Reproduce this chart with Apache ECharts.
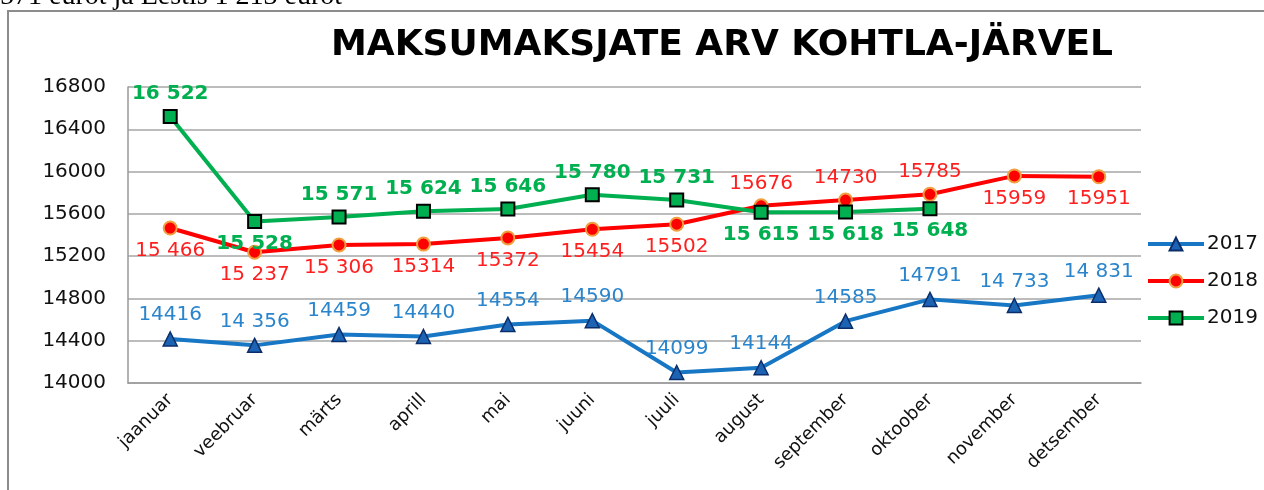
<!DOCTYPE html>
<html>
<head>
<meta charset="utf-8">
<script src="https://cdn.jsdelivr.net/npm/echarts@6/dist/echarts.min.js"></script>
<style>
  html, body { margin: 0; padding: 0; background: #fff; }
  #chart { width: 1264px; height: 490px; }
</style>
</head>
<body>
<div id="chart"></div>
<script>
// months
var months = ['jaanuar', 'veebruar', 'märts', 'aprill', 'mai', 'juuni', 'juuli', 'august', 'september', 'oktoober', 'november', 'detsember']
var yTicks = [14000, 14400, 14800, 15200, 15600, 16000, 16400, 16800]

var values2017 = [14416, 14356, 14459, 14440, 14554, 14590, 14099, 14144, 14585, 14791, 14733, 14831]
var values2018 = [15466, 15237, 15306, 15314, 15372, 15454, 15502, 15676, 15730, 15785, 15959, 15951]
var values2019 = [16522, 15528, 15571, 15624, 15646, 15780, 15731, 15615, 15618, 15648, null, null]

// label text as written on the original chart
var labels2017 = ['14416', '14 356', '14459', '14440', '14554', '14590', '14099', '14144', '14585', '14791', '14 733', '14 831']
var labels2018 = ['15 466', '15 237', '15 306', '15314', '15372', '15454', '15502', '15676', '14730', '15785', '15959', '15951']
var labels2019 = ['16 522', '15 528', '15 571', '15 624', '15 646', '15 780', '15 731', '15 615', '15 618', '15 648', '', '']

var seriesNames = ['2017', '2018', '2019']

function buildData (values, labels, belowIdx) {
  return values.map(function (v, i) {
    return {
      value: v,
      label: {
        position: belowIdx.indexOf(i) >= 0 ? 'bottom' : 'top',
        formatter: labels[i]
      }
    }
  })
}

var chart = echarts.init(document.getElementById('chart'), null, { renderer: 'canvas' })

var font = 'DejaVu Sans, Verdana, sans-serif'

var option = {
  animation: false,
  textStyle: { fontFamily: font },
  graphic: [
    {
      type: 'text',
      left: 0,
      top: -17,
      style: { text: '571 eurot ja Eestis 1 213 eurot', font: '28px "Liberation Serif", serif', fill: '#000' }
    },
    {
      type: 'rect',
      shape: { x: 8, y: 11, width: 1270, height: 500 },
      style: { fill: 'none', stroke: '#8c8c8c', lineWidth: 2 }
    }
  ],
  title: {
    text: 'MAKSUMAKSJATE ARV KOHTLA-JÄRVEL',
    left: 717,
    textAlign: 'center',
    top: 23,
    textStyle: { fontFamily: font, fontWeight: 'bold', fontSize: 36, color: '#000' }
  },
  legend: {
    orient: 'vertical',
    left: 1146,
    top: 234,
    itemWidth: 56,
    itemHeight: 16,
    itemGap: 17,
    padding: 0,
    data: seriesNames,
    lineStyle: { width: 4 },
    textStyle: { fontFamily: font, fontSize: 20, color: '#111', padding: [0, 0, 0, -2] }
  },
  grid: {
    left: 128,
    right: 123,
    top: 87,
    bottom: 107
  },
  xAxis: {
    type: 'category',
    data: months,
    boundaryGap: true,
    axisLine: { lineStyle: { color: '#999', width: 1.5 } },
    axisTick: { inside: true, length: 8, lineStyle: { color: '#999' } },
    axisLabel: { rotate: 45, margin: 14, fontSize: 18, color: '#111', fontFamily: font }
  },
  yAxis: {
    type: 'value',
    min: yTicks[0],
    max: yTicks[yTicks.length - 1],
    interval: 400,
    axisLine: { show: true, lineStyle: { color: '#999', width: 1.5 } },
    axisTick: { show: false },
    axisLabel: {
      fontSize: 20,
      color: '#111',
      margin: 22,
      fontFamily: font,
      formatter: function (v) { return String(v) }
    },
    splitLine: { lineStyle: { color: '#a6a6a6', width: 1.5 } }
  },
  series: [
    {
      name: '2017',
      type: 'line',
      data: buildData(values2017, labels2017, []),
      symbol: 'triangle',
      symbolSize: 14,
      lineStyle: { color: '#1777c4', width: 4 },
      itemStyle: { color: '#1d63b3', borderColor: '#0b2e6b', borderWidth: 1.5 },
      label: { show: true, distance: 6, fontSize: 20, color: '#2a85cc', fontFamily: font }
    },
    {
      name: '2018',
      type: 'line',
      data: buildData(values2018, labels2018, [0, 1, 2, 3, 4, 5, 6, 10, 11]),
      symbol: 'circle',
      symbolSize: 13,
      lineStyle: { color: '#ff0000', width: 4 },
      itemStyle: { color: '#ff0000', borderColor: '#f0a040', borderWidth: 2 },
      label: { show: true, distance: 5, fontSize: 20, color: '#ff1f1f', fontFamily: font }
    },
    {
      name: '2019',
      type: 'line',
      data: buildData(values2019, labels2019, [1, 7, 8, 9]),
      symbol: 'rect',
      symbolSize: 13,
      lineStyle: { color: '#00b050', width: 4 },
      itemStyle: { color: '#00b050', borderColor: '#000', borderWidth: 2 },
      label: { show: true, distance: 5, fontSize: 20, fontWeight: 'bold', color: '#00b050', fontFamily: font }
    }
  ]
}

chart.setOption(option)
</script>
</body>
</html>
